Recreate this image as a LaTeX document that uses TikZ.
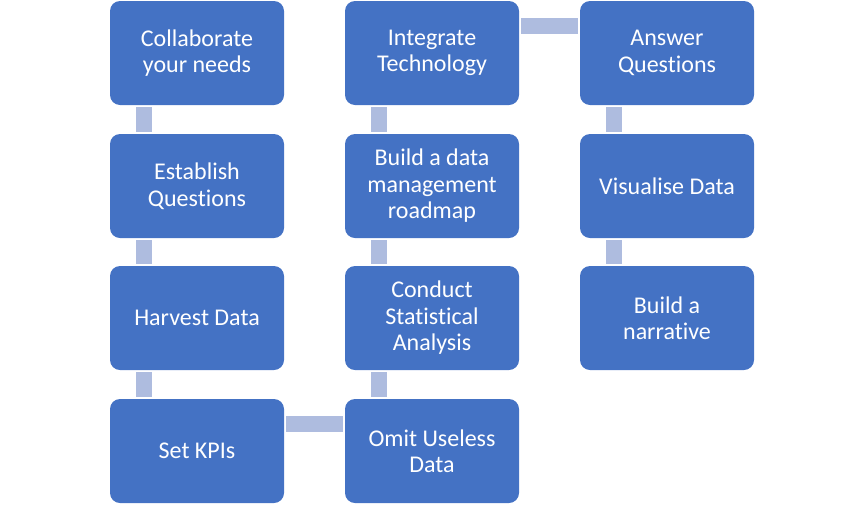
\documentclass[tikz,border=0pt]{standalone}
\usepackage{fontspec}
\setmainfont{Carlito}[Ligatures={NoCommon}]
\usepackage{xcolor}
\usepackage{tikz}
\usetikzlibrary{calc, positioning}
\definecolor{StepBlue}{HTML}{4472C4}
\definecolor{LinkBlue}{HTML}{AEBCDF}
\providecommand{\VLink}[2]{%
  % short bar from one box down to the next
  \draw[link] ($ (#1.south west)+(34.5, 2) $) -- ($ (#2.north west)+(34.5, -2) $);
}
\providecommand{\HLink}[2]{%
  % short bar from one box across to the next
  \draw[link] ($ (#1.north east)+(2, 25) $) -- ($ (#2.north west)+(-2, 25) $);
}

\begin{document}
\begin{tikzpicture}[x=1pt, y=-1pt,
	stepbox/.style={rectangle, rounded corners=10pt, fill=StepBlue, text=white,
		minimum width=174pt, minimum height=104pt, inner sep=0pt, align=center,
		font=\fontsize{24}{26.5}\selectfont},
	link/.style={draw=LinkBlue, line width=16pt, line cap=butt}]

	\useasboundingbox (0,0) rectangle (864,504);

	\def\cola{197}
	\def\colb{432}
	\def\colc{667}

	% left column
	\node[stepbox] (collab) at (\cola, 53) {Collaborate\\your needs};
	\node[stepbox] (quest) at (\cola, 186) {Establish\\Questions};
	\node[stepbox] (harvest) at (\cola, 318) {Harvest Data};
	\node[stepbox] (kpi) at (\cola, 451) {Set KPIs};

	% middle column
	\node[stepbox] (integ) at (\colb, 53) {Integrate\\Technology};
	\node[stepbox] (roadmap) at (\colb, 186) {Build a data\\management\\roadmap};
	\node[stepbox] (stats) at (\colb, 318) {Conduct\\Statistical\\Analysis};
	\node[stepbox] (omit) at (\colb, 451) {Omit Useless\\Data};

	% right column
	\node[stepbox] (answer) at (\colc, 53) {Answer\\Questions};
	\node[stepbox] (visual) at (\colc, 186) {Visualise Data};
	\node[stepbox] (story) at (\colc, 318) {Build a\\narrative};

	\VLink{collab}{quest}
	\VLink{quest}{harvest}
	\VLink{harvest}{kpi}
	\HLink{kpi}{omit}
	\VLink{stats}{omit}
	\VLink{roadmap}{stats}
	\VLink{integ}{roadmap}
	\HLink{integ}{answer}
	\VLink{answer}{visual}
	\VLink{visual}{story}

\end{tikzpicture}
\end{document}
